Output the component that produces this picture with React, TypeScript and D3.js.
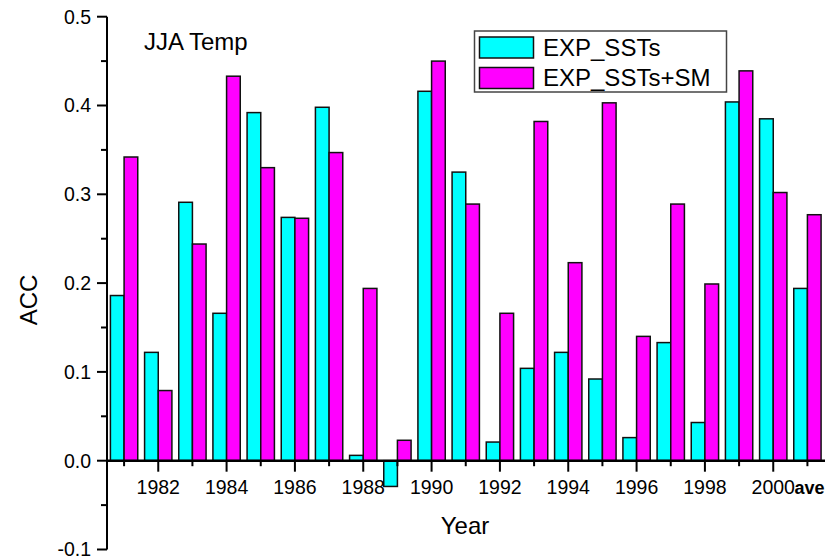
import React from "react";
import * as d3 from "d3";

const categories = ["1981","1982","1983","1984","1985","1986","1987","1988","1989","1990","1991","1992","1993","1994","1995","1996","1997","1998","1999","2000","ave"];
const expSSTs = [0.186,0.122,0.291,0.166,0.392,0.274,0.398,0.006,-0.029,0.416,0.325,0.021,0.104,0.122,0.092,0.026,0.133,0.043,0.404,0.385,0.194];
const expSSTsSM = [0.342,0.079,0.244,0.433,0.330,0.273,0.347,0.194,0.023,0.450,0.289,0.166,0.382,0.223,0.403,0.140,0.289,0.199,0.439,0.302,0.277];
const seriesNames = ["EXP_SSTs", "EXP_SSTs+SM"];
const seriesColors = ["#00FFFF", "#FF00FF"];
const yMajorTicks = [-0.1, 0.0, 0.1, 0.2, 0.3, 0.4, 0.5];
const yMinorTicks = [-0.05, 0.05, 0.15, 0.25, 0.35, 0.45];

const W = 827, H = 560;
const FONT = "'Liberation Sans', Arial, sans-serif";

export default function App() {
  const x = d3.scaleBand<string>().domain(categories).range([107, 824.5]).paddingInner(0).paddingOuter(0);
  const y = d3.scaleLinear().domain([-0.1, 0.5]).range([549.5, 16.7]);
  const step = x.step();
  const barW = step * 0.4;
  const center = (c: string) => (x(c) as number) + step / 2;
  const y0 = y(0);
  const all = [expSSTs, expSSTsSM];

  return (
    <svg width={W} height={H} style={{ position: "absolute", left: 0, top: 0, background: "#fff" }} fontFamily={FONT}>
      <rect x={0} y={0} width={W} height={H} fill="#fff" />
      {/* bars */}
      {all.map((vals, si) =>
        vals.map((v, i) => {
          const c = categories[i];
          const bx = center(c) - barW + si * barW;
          const top = Math.min(y(v), y0);
          const h = Math.abs(y(v) - y0);
          return (
            <rect key={`${si}-${i}`} x={bx} y={top} width={barW} height={h}
              fill={seriesColors[si]} stroke="#111" strokeWidth={1.5} />
          );
        })
      )}
      {/* y axis */}
      <line x1={107} x2={107} y1={y(0.5)} y2={y(-0.1)} stroke="#000" strokeWidth={2} />
      {yMajorTicks.map((t) => (
        <g key={`ym${t}`}>
          <line x1={97} x2={107} y1={y(t)} y2={y(t)} stroke="#000" strokeWidth={2} />
          <text x={91} y={y(t)} dy="0.35em" textAnchor="end" fontSize={19.5} fill="#000">{t.toFixed(1)}</text>
        </g>
      ))}
      {yMinorTicks.map((t) => (
        <line key={`yn${t}`} x1={101} x2={107} y1={y(t)} y2={y(t)} stroke="#000" strokeWidth={2} />
      ))}
      {/* x axis at zero */}
      <line x1={107} x2={825} y1={y0} y2={y0} stroke="#000" strokeWidth={2.5} />
      {categories.map((c, i) => {
        const major = i % 2 === 1;
        return (
          <g key={`xt${c}`}>
            <line x1={center(c)} x2={center(c)} y1={y0} y2={y0 + (major ? 11 : 5.5)} stroke="#000" strokeWidth={2} />
            {(major || c === "ave") && (
              <text x={center(c) + (c === "ave" ? 2 : 0)} y={494} textAnchor="middle" fontSize={c === "ave" ? 18 : 19.5}
                fontWeight={c === "ave" ? "bold" : "normal"} fill="#000">{c}</text>
            )}
          </g>
        );
      })}
      {/* axis titles */}
      <text x={465} y={534} textAnchor="middle" fontSize={24} fill="#000">Year</text>
      <text transform={`translate(37,${300}) rotate(-90)`} textAnchor="middle" fontSize={24} fill="#000">ACC</text>
      {/* annotation */}
      <text x={144} y={49.5} fontSize={24} fill="#000">JJA Temp</text>
      {/* legend */}
      <rect x={474.5} y={31} width={252} height={61} fill="#fff" stroke="#444" strokeWidth={1.5} />
      {seriesNames.map((n, i) => (
        <g key={n}>
          <rect x={479.5} y={37 + i * 30.5} width={54} height={21} fill={seriesColors[i]} stroke="#111" strokeWidth={1.5} />
          <text x={543} y={56 + i * 30} fontSize={24} fill="#000">{n}</text>
        </g>
      ))}
    </svg>
  );
}
